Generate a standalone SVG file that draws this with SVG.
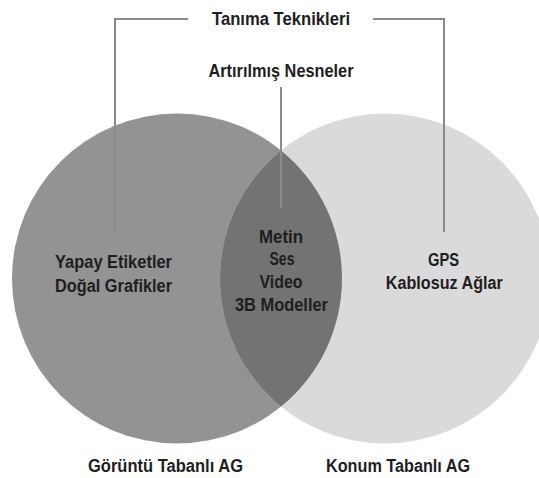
<svg xmlns="http://www.w3.org/2000/svg" width="539" height="478" viewBox="0 0 539 478">
<style>
text{font-family:"Liberation Sans",Arial,sans-serif;font-size:18px;font-weight:bold;fill:#1e1e1e;text-anchor:middle}
.conn{fill:none;stroke:#8a8a8a;stroke-width:2}
</style>
<rect width="539" height="478" fill="#ffffff"/>
<g id="goruntu">
<circle cx="177" cy="278.5" r="165" fill="#939393"/>
</g>
<g id="konum">
<circle cx="385" cy="278.5" r="165" fill="#dadada"/>
</g>
<g id="kesisim">
<path d="M281,150.4 A165,165 0 0 1 281,406.6 A165,165 0 0 1 281,150.4 Z" fill="#737373"/>
</g>
<g id="connectors">
<path class="conn" d="M115,232 V19 H188"/>
<path class="conn" d="M373,19 H444 V232"/>
<path class="conn" d="M281,87 V208"/>
</g>
<g id="tanima">
<text x="281" y="25" textLength="138" lengthAdjust="spacingAndGlyphs">Tanıma Teknikleri</text>
</g>
<g id="artirilmis">
<text x="281" y="77" textLength="145" lengthAdjust="spacingAndGlyphs">Artırılmış Nesneler</text>
</g>
<g id="goruntu-labels">
<text x="113.5" y="268" textLength="117" lengthAdjust="spacingAndGlyphs">Yapay Etiketler</text>
<text x="113.5" y="291.5" textLength="117" lengthAdjust="spacingAndGlyphs">Doğal Grafikler</text>
<text x="165.5" y="472" textLength="155" lengthAdjust="spacingAndGlyphs">Görüntü Tabanlı AG</text>
</g>
<g id="kesisim-labels">
<text x="281" y="243" textLength="44" lengthAdjust="spacingAndGlyphs">Metin</text>
<text x="282" y="265" textLength="25" lengthAdjust="spacingAndGlyphs">Ses</text>
<text x="281" y="288" textLength="43" lengthAdjust="spacingAndGlyphs">Video</text>
<text x="281.5" y="311" textLength="93" lengthAdjust="spacingAndGlyphs">3B Modeller</text>
</g>
<g id="konum-labels">
<text x="443.5" y="266" textLength="31" lengthAdjust="spacingAndGlyphs">GPS</text>
<text x="444.3" y="289" textLength="117" lengthAdjust="spacingAndGlyphs">Kablosuz Ağlar</text>
<text x="398" y="472" textLength="144" lengthAdjust="spacingAndGlyphs">Konum Tabanlı AG</text>
</g>
</svg>
